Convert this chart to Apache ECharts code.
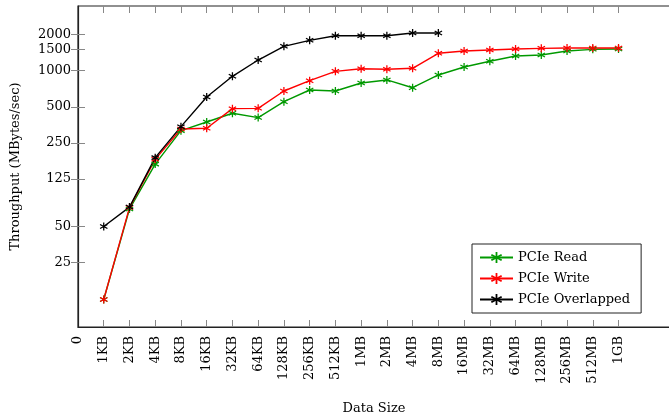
<!DOCTYPE html>
<html><head><meta charset="utf-8">
<script src="https://cdn.jsdelivr.net/npm/echarts@6/dist/echarts.min.js"></script>
<style>html,body{margin:0;padding:0;background:#fff}#c{width:669px;height:418px}</style>
</head><body><div id="c"></div>
<script>
var xLabels = ["0","1KB","2KB","4KB","8KB","16KB","32KB","64KB","128KB","256KB","512KB","1MB","2MB","4MB","8MB","16MB","32MB","64MB","128MB","256MB","512MB","1GB"];
var categories = xLabels.slice(1);
var readValues = [12.3,70,166,316,373,441,406,551,690,677,790,837,721,921,1074,1198,1326,1352,1460,1508,1517];
var writeValues = [12.3,72,182,326,331,482,485,677,825,988,1039,1027,1047,1397,1460,1488,1517,1537,1546,1546,1546];
var overlapValues = [50,72.7,188,341,603,898,1228,1598,1793,1958,1958,1958,2062,2062];
var yTicks = [25,50,125,250,500,1000,1500,2000];
var seriesNames = ["PCIe Read","PCIe Write","PCIe Overlapped"];

var STAR = 'path://M-0.15 -1L0.15 -1L0.15 1L-0.15 1Z M0.791 -0.63L0.941 -0.37L-0.791 0.63L-0.941 0.37Z M0.941 0.37L0.791 0.63L-0.941 -0.37L-0.791 -0.63Z';
var FONT = 'DejaVu Serif';
function pairs(vals){ return vals.map(function(v,i){ return [i+1, v]; }); }
var xTickVals = categories.map(function(c,i){ return i+1; });
var xLabelVals = xLabels.map(function(c,i){ return i; });

function mkSeries(name, vals, color){
  return {name:name, type:'line', data:pairs(vals), symbol:STAR, symbolSize:8,
    itemStyle:{color:color}, lineStyle:{color:color, width:1.4}, z: 3};
}
var chart = echarts.init(document.getElementById('c'), null, {renderer:'canvas'});
var yMin = 7.25, yMax = 3468;
chart.setOption({
  animation:false,
  grid:{left:78, top:6, width:592, height:321, containLabel:false, outerBoundsMode:'none',
    show:true, borderColor:'#222', borderWidth:1.2, backgroundColor:'transparent'},
  xAxis:[{type:'value', min:0, max:23, position:'bottom',
      name:'Data Size', nameLocation:'middle', nameGap:75,
      nameTextStyle:{fontFamily:FONT, fontSize:13, color:'#000'},
      axisLine:{show:true, lineStyle:{color:'#222', width:1.2}},
      axisTick:{show:true, inside:true, length:7, customValues:xTickVals, lineStyle:{color:'#888', width:1}},
      axisLabel:{rotate:90, margin:9, fontFamily:FONT, fontSize:13, color:'#000', customValues:xLabelVals,
        formatter:function(v){ return xLabels[Math.round(v)] || ''; }},
      splitLine:{show:false}},
    {type:'value', min:0, max:23, position:'top',
      axisLine:{show:false},
      axisTick:{show:true, inside:true, length:7, customValues:xTickVals, lineStyle:{color:'#888', width:1}},
      axisLabel:{show:false}, splitLine:{show:false}}],
  yAxis:[{type:'log', logBase:2, min:yMin, max:yMax, position:'left',
      name:'Throughput (MBytes/sec)', nameLocation:'middle', nameGap:56, nameRotate:90,
      nameTextStyle:{fontFamily:FONT, fontSize:13, color:'#000'},
      axisLine:{show:true, lineStyle:{color:'#222', width:1.2}},
      axisTick:{show:true, inside:true, length:7, customValues:yTicks, lineStyle:{color:'#888', width:1}},
      axisLabel:{margin:7, fontFamily:FONT, fontSize:13, color:'#000', customValues:yTicks,
        formatter:function(v){ return String(Math.round(v)); }},
      splitLine:{show:false}},
    {type:'log', logBase:2, min:yMin, max:yMax, position:'right',
      axisLine:{show:false},
      axisTick:{show:true, inside:true, length:7, customValues:yTicks, lineStyle:{color:'#888', width:1}},
      axisLabel:{show:false}, splitLine:{show:false}}],
  legend:{orient:'vertical', left:472, top:244, data:seriesNames,
    backgroundColor:'#fff', borderColor:'#222', borderWidth:1,
    padding:[7,11,7,7], itemGap:8, itemWidth:33, itemHeight:14,
    textStyle:{fontFamily:FONT, fontSize:13, color:'#000'}},
  series:[mkSeries(seriesNames[0], readValues, '#009900'),
          mkSeries(seriesNames[1], writeValues, '#ff0000'),
          mkSeries(seriesNames[2], overlapValues, '#000000')]
});
</script></body></html>
